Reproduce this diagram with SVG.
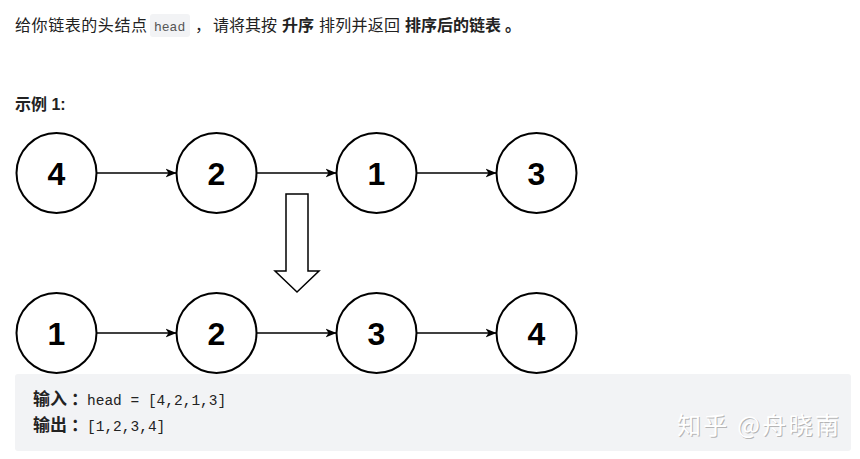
<svg xmlns="http://www.w3.org/2000/svg" width="860" height="459" viewBox="0 0 860 459">
<style>
.cjk{font-family:"Liberation Sans","Noto Sans CJK SC",sans-serif;fill:#222;}
.b{font-weight:bold;}
.mono{font-family:"Liberation Mono","DejaVu Sans Mono",monospace;}
.node circle{fill:#fff;stroke:#000;stroke-width:2;}
.node text{font-family:"Liberation Sans",Arial,sans-serif;font-weight:bold;font-size:32px;text-anchor:middle;fill:#000;}
.conn line{stroke:#000;stroke-width:1.5;marker-end:url(#ah);}
.wm{font-family:"Noto Sans CJK SC",sans-serif;font-size:24px;}
</style>
<defs>
<marker id="ah" markerWidth="12" markerHeight="10" refX="11" refY="5" orient="auto" markerUnits="userSpaceOnUse">
<path d="M0,0.5 L11,5 L0,9.5 L3,5 Z" fill="#000"/>
</marker>
</defs>
<rect width="860" height="459" fill="#fff"/>
<g id="intro">
<text class="cjk" x="15" y="31" font-size="16" textLength="132">给你链表的头结点</text>
<rect x="150" y="14" width="40" height="23" rx="3" fill="#f2f3f5"/>
<text class="mono" x="154" y="31" font-size="13" fill="#555">head</text>
<text class="cjk" x="195" y="31" font-size="16">，</text>
<text class="cjk" x="213" y="31" font-size="16">请将其按</text>
<text class="cjk b" x="282" y="31" font-size="16">升序</text>
<text class="cjk" x="319" y="31" font-size="16" textLength="81">排列并返回</text>
<text class="cjk b" x="405" y="31" font-size="16" textLength="96">排序后的链表</text>
<text class="cjk b" x="505" y="31" font-size="16">。</text>
<text class="cjk b" x="15" y="110" font-size="16" fill="#333">示例 1:</text>
</g>
<g id="n4a" class="node"><circle cx="56.5" cy="173" r="40"/><text x="56.5" y="185">4</text></g>
<g id="n2a" class="node"><circle cx="216.5" cy="173" r="40"/><text x="216.5" y="185">2</text></g>
<g id="n1a" class="node"><circle cx="376.5" cy="173" r="40"/><text x="376.5" y="185">1</text></g>
<g id="n3a" class="node"><circle cx="536.5" cy="173" r="40"/><text x="536.5" y="185">3</text></g>
<g id="n1b" class="node"><circle cx="56.5" cy="333" r="40"/><text x="56.5" y="345">1</text></g>
<g id="n2b" class="node"><circle cx="216.5" cy="333" r="40"/><text x="216.5" y="345">2</text></g>
<g id="n3b" class="node"><circle cx="376.5" cy="333" r="40"/><text x="376.5" y="345">3</text></g>
<g id="n4b" class="node"><circle cx="536.5" cy="333" r="40"/><text x="536.5" y="345">4</text></g>
<g id="connectors" class="conn">
<line x1="96.5" y1="173" x2="176.5" y2="173"/>
<line x1="256.5" y1="173" x2="336.5" y2="173"/>
<line x1="416.5" y1="173" x2="496.5" y2="173"/>
<line x1="96.5" y1="333" x2="176.5" y2="333"/>
<line x1="256.5" y1="333" x2="336.5" y2="333"/>
<line x1="416.5" y1="333" x2="496.5" y2="333"/>
</g>
<g id="bigarrow">
<path d="M286,194 L308,194 L308,271 L319,271 L297,292 L275,271 L286,271 Z" fill="#fff" stroke="#000" stroke-width="1.5"/>
</g>
<g id="example">
<rect x="15" y="374" width="836" height="77" rx="3" fill="#f2f3f5"/>
<text class="cjk b" x="33" y="405" font-size="17">输入</text>
<text class="cjk b" x="71" y="405" font-size="17">：</text>
<text class="mono" x="87" y="405" font-size="14.5" fill="#222">head = [4,2,1,3]</text>
<text class="cjk b" x="33" y="431" font-size="17">输出</text>
<text class="cjk b" x="71" y="431" font-size="17">：</text>
<text class="mono" x="87" y="431" font-size="14.5" fill="#222">[1,2,3,4]</text>
<text class="wm" x="678" y="435" fill="#b5b5b5" textLength="162">知乎 @舟晓南</text>
<text class="wm" x="677" y="434" fill="#ffffff" textLength="162">知乎 @舟晓南</text>
</g>
</svg>
